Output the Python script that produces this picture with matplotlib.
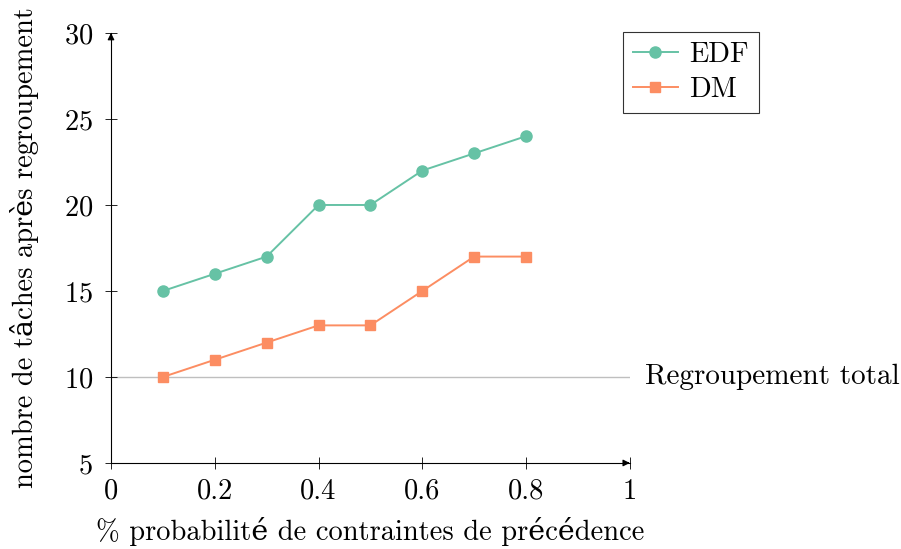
import matplotlib
matplotlib.use("Agg")
import matplotlib.pyplot as plt

plt.rcParams['font.family'] = ['cmr10', 'DejaVu Serif']
plt.rcParams['mathtext.fontset'] = 'cm'
plt.rcParams['axes.formatter.use_mathtext'] = True

x = [0.1, 0.2, 0.3, 0.4, 0.5, 0.6, 0.7, 0.8]
edf = [15, 16, 17, 20, 20, 22, 23, 24]
dm = [10, 11, 12, 13, 13, 15, 17, 17]
xticks = [0, 0.2, 0.4, 0.6, 0.8, 1]
xticklabels = ["0", "0.2", "0.4", "0.6", "0.8", "1"]
yticks = [5, 10, 15, 20, 25, 30]
total = 10

fs = 20.5
fig = plt.figure(figsize=(9.01, 5.49), dpi=100)
ax = fig.add_axes([0.1232, 0.1567, 0.699 - 0.1232, 0.9399 - 0.1567])

ax.axhline(total, color='#bfbfbf', lw=1.0, zorder=1)
ax.text(1.03, total, "Regroupement total", va='center', ha='left', fontsize=21,
        transform=ax.get_yaxis_transform())

ax.plot(x, edf, color='#66c2a5', marker='o', ms=8, lw=1.4, label='EDF', zorder=3)
ax.plot(x, dm, color='#fc8d62', marker='s', ms=7, lw=1.4, label='DM', zorder=3)

ax.set_xlim(0, 1)
ax.set_ylim(5, 30)
ax.set_xticks(xticks)
ax.set_xticklabels(xticklabels)
ax.set_yticks(yticks)
for s in ['top', 'right']:
    ax.spines[s].set_visible(False)
for s in ['left', 'bottom']:
    ax.spines[s].set_linewidth(0.8)
ax.tick_params(direction='inout', length=8, width=0.6, labelsize=fs)
ax.tick_params(axis='x', pad=7)
ax.tick_params(axis='y', pad=9)

ax.annotate('', xy=(1.0, 0), xytext=(0.99, 0), xycoords='axes fraction',
            arrowprops=dict(arrowstyle='-|>', color='black', lw=0.8, mutation_scale=10))
ax.annotate('', xy=(0, 1.0), xytext=(0, 0.99), xycoords='axes fraction',
            arrowprops=dict(arrowstyle='-|>', color='black', lw=0.8, mutation_scale=10))

ax.set_xlabel("% probabilité de contraintes de précédence", fontsize=fs, labelpad=9)
ax.set_ylabel("nombre de tâches après regroupement", fontsize=fs, labelpad=18)

leg = ax.legend(loc='upper left', bbox_to_anchor=(0.986, 1.003), fontsize=fs,
                frameon=True, fancybox=False, edgecolor='black', borderpad=0.35,
                borderaxespad=0, handlelength=1.6, handletextpad=0.4, labelspacing=0.3)
leg.get_frame().set_linewidth(0.8)

fig.savefig("out.png", dpi=100)
